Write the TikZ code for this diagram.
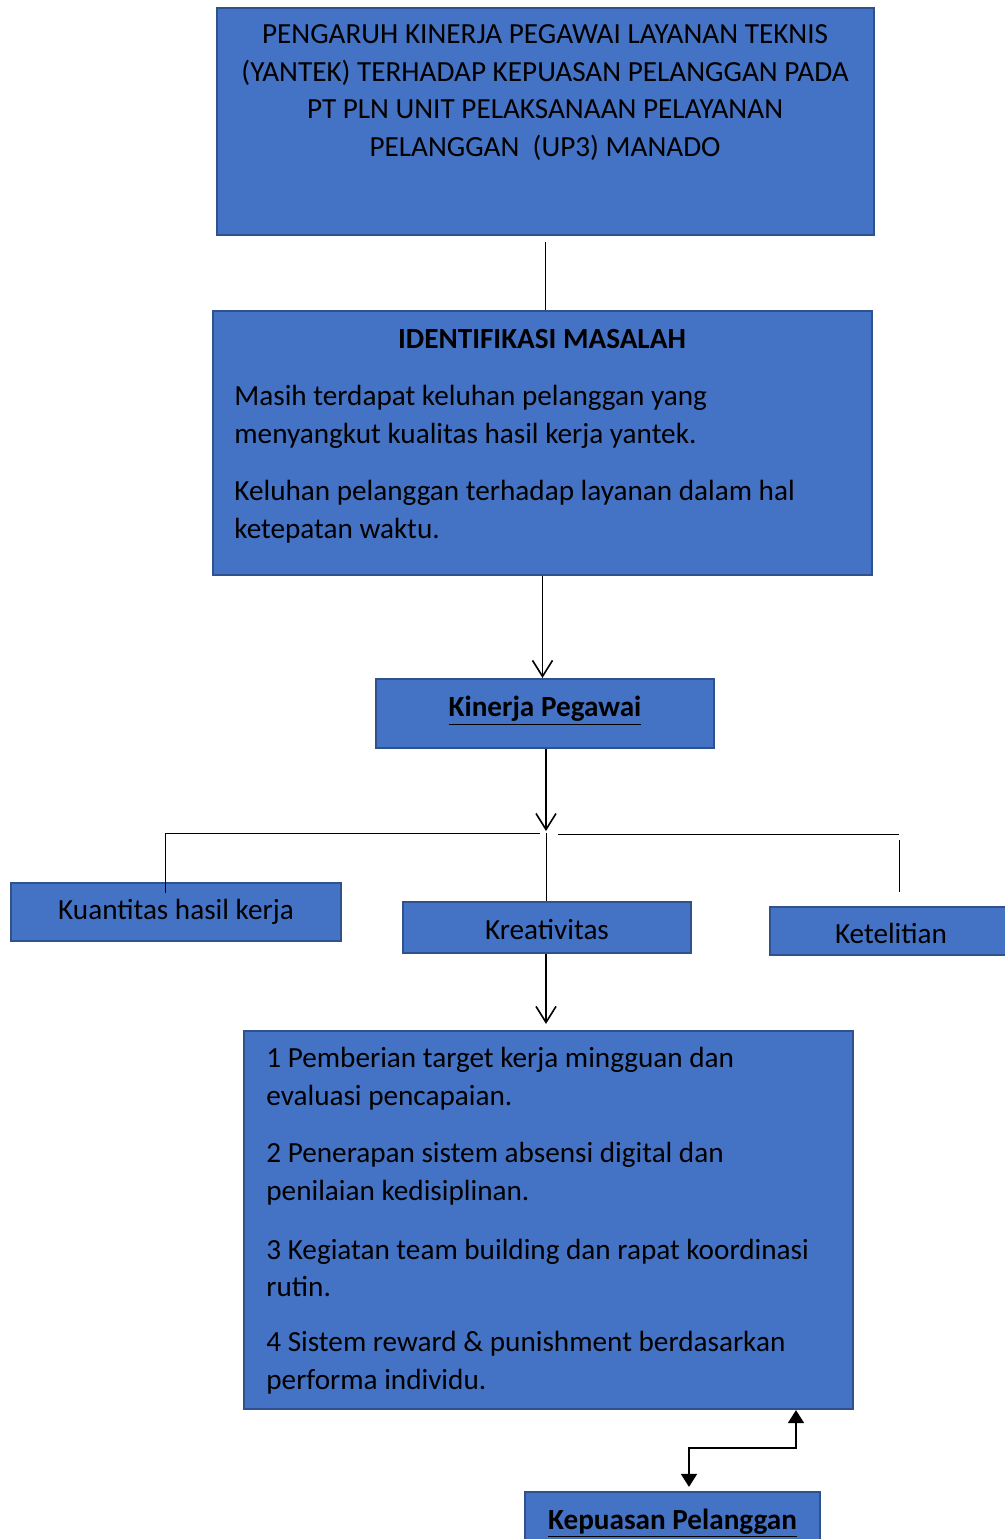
\documentclass[tikz,border=0pt]{standalone}
\usepackage{fontspec}
\setmainfont{Carlito}
\usetikzlibrary{arrows.meta}
\definecolor{boxblue}{HTML}{4472C4}
\definecolor{boxline}{HTML}{2F528F}
\begin{document}
\begin{tikzpicture}[x = 0.5pt, y = -0.5pt, font = \fontsize{14.6}{18.9}\selectfont,
    box/.style = {draw = boxline, fill = boxblue, line width = 1.1pt, inner sep = 0pt},
    para/.style = {anchor = west, align = left, inner sep = 0pt},
    link/.style = {line width = 0.8pt},
    branch/.style = {line width = 0.5pt},
    barb/.style = {link, -{Straight Barb[length = 8pt, width = 10pt]}},
    twoway/.style = {line width = 0.9pt, {Triangle[length = 6.5pt, width = 8pt]}-{Triangle[length = 6.5pt, width = 8pt]}}]
                \clip (0, 0) rectangle (1005, 1539);
                \node [box, minimum width = 328.5pt, minimum height = 113.5pt] (title) at (545.5, 121.5) {};
                \node [align = center, inner sep = 0pt] (titletext) at (545, 92.5) {PENGARUH KINERJA PEGAWAI LAYANAN TEKNIS\\(YANTEK) TERHADAP KEPUASAN PELANGGAN PADA\\PT PLN UNIT PELAKSANAAN PELAYANAN\\PELANGGAN~~(UP3) MANADO};
                \node [box, minimum width = 329.5pt, minimum height = 132pt] (ident) at (542.5, 443) {};
                \node [inner sep = 0pt] (identhead) at (542, 339) {\bfseries IDENTIFIKASI MASALAH};
                \node [para] (masalah1) at (234, 416.5) {Masih terdapat keluhan pelanggan yang\\menyangkut kualitas hasil kerja yantek.};
                \node [para] (masalah2) at (234, 511.5) {Keluhan pelanggan terhadap layanan dalam hal\\ketepatan waktu.};
                \node [box, minimum width = 169pt, minimum height = 34.5pt, text height = 9pt, text depth = 6pt] (kinerja) at (545, 713.5) {\bfseries\underline{Kinerja Pegawai}};
                \node [box, minimum width = 165pt, minimum height = 29pt] (kuantitas) at (176, 912) {Kuantitas hasil kerja};
                \node [box, minimum width = 144pt, minimum height = 25.5pt, text height = 12pt] (kreativitas) at (547, 927.5) {Kreativitas};
                \node [box, minimum width = 121pt, minimum height = 24pt, text height = 13pt] (ketelitian) at (891, 931) {Ketelitian};
                \node [box, minimum width = 304.5pt, minimum height = 189pt] (strategi) at (548.5, 1220) {};
                \node [para] (langkah1) at (266, 1079) {1 Pemberian target kerja mingguan dan\\evaluasi pencapaian.};
                \node [para] (langkah2) at (266, 1174) {2 Penerapan sistem absensi digital dan\\penilaian kedisiplinan.};
                \node [para] (langkah3) at (266, 1268) {3 Kegiatan team building dan rapat koordinasi\\rutin.};
                \node [para] (langkah4) at (266, 1363) {4 Sistem reward \& punishment berdasarkan\\performa individu.};
                \node [box, minimum width = 147.5pt, minimum height = 29pt, text height = 10pt, text depth = 2pt] (kepuasan) at (672.5, 1521) {\bfseries\underline{Kepuasan Pelanggan}};
                \coordinate (hub) at (546, 831);
                \coordinate (leftend) at (540, 833);
                \coordinate (kuantop) at (165, 893);
                \coordinate (rightend) at (558, 834);
                \coordinate (rightcorner) at (899, 834);
                \coordinate (ketetop) at (899, 892);
                \coordinate (bend) at (796, 1448);
                \coordinate (drop) at (689, 1448);
                \draw [link, shorten <= 3pt] (title.south) -- (title.south |- ident.north);
                \draw [barb] (ident.south) -- (ident.south |- kinerja.north);
                \draw [barb] (kinerja.south -| hub) -- (hub);
                \draw [branch] (leftend) -| (kuantop);
                \draw [branch] (hub |- leftend) -- (hub |- kreativitas.north);
                \draw [branch] (rightend) -- (rightcorner);
                \draw [branch] ([yshift = -3pt]rightcorner) -- (ketetop);
                \draw [barb, shorten > = 3pt] (kreativitas.south -| hub) -- (hub |- strategi.north);
                \draw [twoway] (strategi.south -| bend) -- (bend) -- (drop) -- ([yshift = 2pt]kepuasan.north -| drop);
            \end{tikzpicture}
\end{document}
